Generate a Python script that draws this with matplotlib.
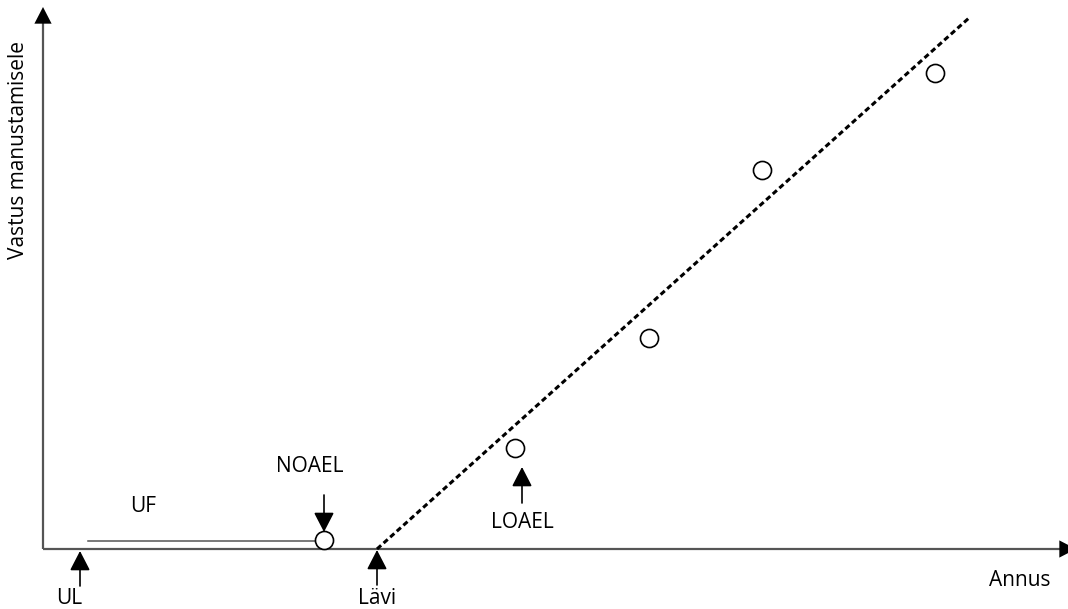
import numpy as np
import matplotlib.pyplot as plt

plt.rcParams['font.family'] = ['Open Sans', 'DejaVu Sans']

# dose / response observations (arbitrary units)
obs_dose = [2.81, 4.72, 6.06, 7.19, 8.92]
obs_resp = [0.09, 1.01, 2.11, 3.79, 4.76]

# linear fit above threshold
threshold = 3.34
fit_end = 9.27
slope = 0.897

# reference doses
ul_dose = 0.37
noael_dose = 2.81
loael_dose = 4.72
uf_start = 0.45
uf_level = 0.08

fig = plt.figure(figsize=(10.68, 6.09), dpi=100)
ax = fig.add_axes([0, 0, 1, 1])
ax.set_xlim(-0.43, 10.25)
ax.set_ylim(-0.60, 5.49)
ax.axis('off')

axis_col = '#555555'
head = '-|>,head_length=1.2,head_width=0.62'

def head_only(xy, xytext):
    ax.annotate('', xy=xy, xytext=xytext, annotation_clip=False,
                arrowprops=dict(arrowstyle=head, mutation_scale=10, color='black',
                                lw=0, shrinkA=0, shrinkB=0))

# axes with arrowheads
ax.plot([0, 0], [0, 5.3], color=axis_col, lw=1.6, solid_capstyle='butt', clip_on=False)
ax.plot([0, 10.3], [0, 0], color=axis_col, lw=1.6, solid_capstyle='butt', clip_on=False)
head_only((0, 5.42), (0, 5.0))
head_only((10.33, 0), (9.9, 0))

# fitted line
xf = np.array([threshold, fit_end])
ax.plot(xf, slope * (xf - threshold), color='black', lw=2.2,
        dashes=(1.8, 1.1), zorder=3)

# uncertainty factor span
ax.plot([uf_start, noael_dose], [uf_level, uf_level], color=axis_col, lw=1.1)

# observations
ax.plot(obs_dose, obs_resp, 'o', ms=13, mfc='white', mec='black', mew=1.2, zorder=4)

def marker_arrow(x, y_tip, y_tail):
    ax.annotate('', xy=(x, y_tip), xytext=(x, y_tail),
                arrowprops=dict(arrowstyle=head, mutation_scale=10, color='black',
                                lw=1.2, shrinkA=0, shrinkB=0))

marker_arrow(noael_dose, 0.17, 0.54)
marker_arrow(ul_dose, -0.02, -0.37)
marker_arrow(threshold, -0.01, -0.36)
marker_arrow(loael_dose + 0.07, 0.82, 0.46)

fs = 15
ax.text(noael_dose - 0.14, 0.83, 'NOAEL', fontsize=fs, ha='center', va='center')
ax.text(1.0, 0.42, 'UF', fontsize=fs, ha='center', va='center')
ax.text(loael_dose + 0.07, 0.26, 'LOAEL', fontsize=fs, ha='center', va='center')
ax.text(ul_dose - 0.11, -0.495, 'UL', fontsize=fs, ha='center', va='center')
ax.text(threshold, -0.495, 'Lävi', fontsize=fs, ha='center', va='center')
ax.text(9.77, -0.31, 'Annus', fontsize=fs, ha='center', va='center')
ax.text(-0.24, 3.99, 'Vastus manustamisele', fontsize=fs, rotation=90,
        ha='center', va='center')

fig.savefig('out.png', dpi=100)
